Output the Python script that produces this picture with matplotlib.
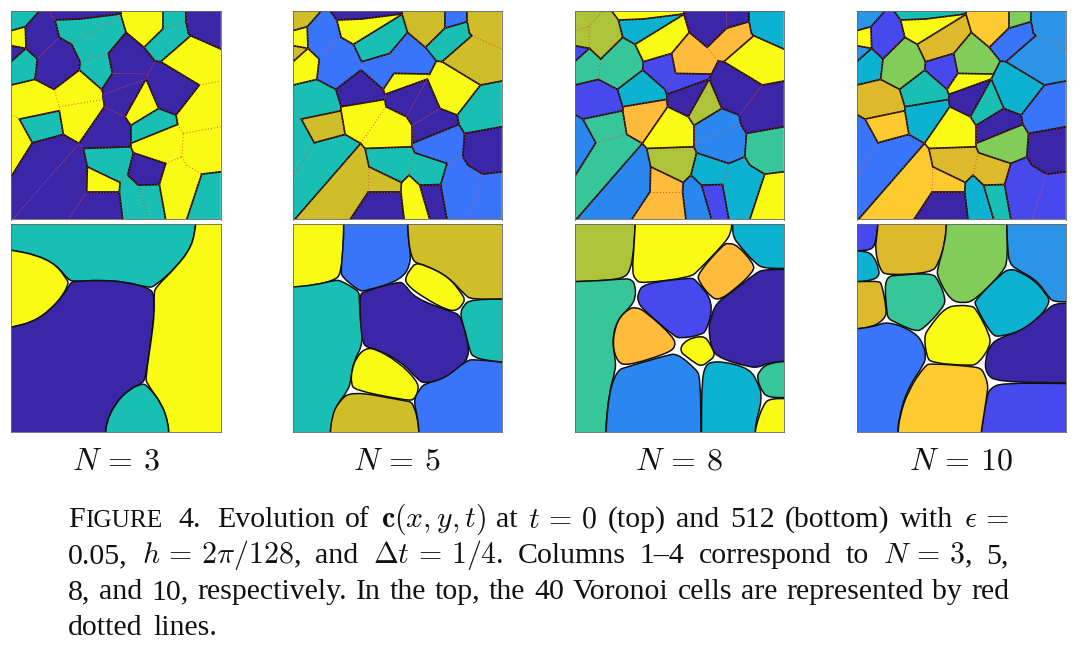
import numpy as np
import matplotlib
matplotlib.use('Agg')
import matplotlib.pyplot as plt
from matplotlib.patches import Polygon, PathPatch
from matplotlib.path import Path

plt.rcParams['mathtext.fontset'] = 'cm'
plt.rcParams['font.family'] = ['Liberation Serif', 'DejaVu Serif']

W, H = 1085, 646

# colours, per letter
palette = {'P': '#3C26A8', 'I': '#4749EE', 'B': '#3875FB', 'H': '#2B87F0', 'L': '#2B94E6', 'C': '#0DB2D0',
           'T': '#18BFB2', 'E': '#36C69A', 'G': '#82CC5A', 'A': '#ADC33A', 'D': '#D0BD2A',
           'O': '#DDB92C', 'R': '#FFBB3B', 'S': '#FDCB2F', 'Y': '#F9FB14'}

# the 40 Voronoi cells of the top row, same in every column (zoom pixels)
voronoi_cells = [
    [(33, 33), (118, 33), (76, 80), (33, 92)],
    [(33, 92), (76, 80), (78, 145), (33, 137)],
    [(33, 137), (78, 145), (33, 185)],
    [(33, 185), (78, 145), (112, 177), (105, 238), (33, 255)],
    [(118, 33), (145, 33), (165, 60), (178, 112), (112, 177), (78, 145), (76, 80)],
    [(178, 112), (215, 133), (240, 185), (238, 210), (162, 268), (105, 238), (112, 177)],
    [(145, 33), (362, 33), (362, 43), (352, 43), (240, 57), (165, 60)],
    [(165, 60), (240, 57), (352, 43), (362, 43), (215, 133), (178, 112)],
    [(215, 133), (362, 43), (378, 97), (325, 160), (240, 185)],
    [(240, 185), (325, 160), (337, 220), (305, 268), (238, 210)],
    [(378, 97), (432, 142), (465, 183), (445, 222), (337, 220), (325, 160)],
    [(337, 220), (445, 222), (438, 237), (310, 283), (305, 268)],
    [(310, 283), (438, 237), (375, 350), (313, 320), (310, 298)],
    [(438, 237), (476, 325), (392, 376), (375, 350)],
    [(465, 183), (482, 185), (598, 255), (528, 345), (476, 325), (438, 237), (445, 222)],
    [(482, 185), (572, 107), (662, 147), (662, 243), (598, 255)],
    [(432, 142), (490, 85), (558, 65), (565, 100), (572, 107), (482, 185), (465, 183)],
    [(490, 33), (558, 33), (558, 65), (490, 85)],
    [(362, 33), (490, 33), (490, 85), (432, 142), (378, 97), (362, 43)],
    [(558, 33), (662, 33), (662, 147), (572, 107), (565, 100), (558, 65)],
    [(598, 255), (662, 243), (662, 380), (550, 400), (533, 373), (528, 345)],
    [(550, 400), (662, 380), (662, 515), (605, 522), (560, 495), (545, 470)],
    [(392, 376), (476, 325), (528, 345), (533, 373), (392, 430)],
    [(392, 430), (533, 373), (550, 400), (545, 470), (497, 490), (400, 458), (392, 440)],
    [(313, 320), (375, 350), (392, 376), (392, 430), (392, 440), (250, 445), (237, 430)],
    [(162, 268), (238, 210), (305, 268), (310, 283), (310, 298), (178, 320)],
    [(178, 320), (310, 298), (313, 320), (237, 430), (190, 403), (178, 332)],
    [(33, 255), (105, 238), (162, 268), (178, 320), (178, 332), (58, 357), (33, 343)],
    [(58, 357), (178, 332), (190, 403), (97, 428)],
    [(33, 343), (58, 357), (97, 428), (33, 530)],
    [(33, 530), (97, 428), (190, 403), (237, 430), (38, 658), (33, 658)],
    [(38, 658), (237, 430), (250, 445), (262, 500), (260, 575), (205, 658)],
    [(205, 658), (260, 575), (358, 575), (368, 658)],
    [(250, 445), (392, 440), (400, 458), (383, 525), (360, 547), (262, 500)],
    [(262, 500), (360, 547), (358, 575), (260, 575)],
    [(400, 458), (497, 490), (478, 553), (415, 555), (383, 525)],
    [(360, 547), (383, 525), (415, 555), (445, 658), (368, 658), (358, 575)],
    [(415, 555), (478, 553), (497, 658), (445, 658)],
    [(497, 490), (545, 470), (560, 495), (605, 522), (560, 658), (497, 658), (478, 553)],
    [(605, 522), (662, 515), (662, 658), (560, 658)],
]

# colour letter of each Voronoi cell for N = 3, 5, 8, 10
top_colors_n3 = 'TYPTPPPTTTPPPYPYTTYPYYTYPYYYTYPPPTYPTTYT'
top_colors_n5 = 'DYDYBBPYTBBYPPYDTBDDTPPBYPYTDTTDPTDTYPBB'
top_colors_n8 = 'AAIEAEYCYIRIPAPYRPPCPEHHYCRIEHEHRARCHICY'
top_colors_n10 = 'LYLCIGTYOIGYPTCLBGSLBPPGYTCOSBBSPOSOCTII'

# bottom row, t = 512: outline points of each region, each panel in its own zoom pixels
n3_cells = [
    [(20, 0), (587, 0), (587, 20), (575, 80), (530, 140), (465, 198), (445, 203), (380, 186), (300, 180), (225, 184), (205, 180), (170, 135), (110, 105), (33, 90), (20, 88)],
    [(20, 90), (33, 90), (110, 105), (170, 135), (206, 187), (190, 225), (150, 270), (100, 305), (33, 322), (20, 322)],
    [(20, 322), (33, 322), (100, 305), (150, 270), (190, 225), (215, 185), (300, 180), (380, 186), (450, 205), (462, 225), (463, 280), (455, 350), (437, 470), (427, 490), (390, 505), (345, 550), (318, 610), (317, 650), (20, 650)],
    [(587, 0), (670, 0), (670, 650), (506, 650), (505, 610), (485, 550), (440, 490), (437, 470), (455, 350), (463, 280), (462, 225), (465, 203), (530, 140), (575, 80), (587, 20)],
    [(317, 650), (318, 610), (345, 550), (390, 505), (430, 490), (445, 500), (485, 550), (505, 610), (506, 650)],
]
n3_colors = 'TYPYT'

n5_cells = [
    [(10, 0), (176, 0), (176, 60), (168, 160), (150, 180), (90, 195), (24, 202), (10, 202)],
    [(176, 0), (368, 0), (370, 60), (380, 125), (350, 180), (240, 213), (222, 212), (170, 170), (168, 150), (176, 60)],
    [(368, 0), (665, 0), (665, 237), (560, 238), (540, 225), (490, 170), (420, 135), (395, 130), (380, 115), (370, 60)],
    [(10, 202), (90, 195), (150, 180), (170, 182), (222, 215), (225, 290), (235, 370), (205, 425), (197, 480), (190, 510), (150, 560), (135, 636), (135, 650), (10, 650)],
    [(235, 215), (340, 185), (357, 190), (390, 235), (500, 275), (525, 285), (540, 330), (555, 400), (530, 440), (480, 475), (420, 490), (400, 480), (350, 425), (270, 385), (245, 382), (232, 365), (225, 290), (225, 225)],
    [(390, 130), (420, 135), (490, 170), (530, 220), (540, 240), (520, 270), (490, 272), (420, 235), (365, 195), (360, 170)],
    [(240, 385), (270, 385), (340, 425), (395, 480), (402, 510), (385, 540), (350, 538), (210, 510), (198, 490), (200, 450), (215, 410)],
    [(200, 512), (350, 540), (380, 545), (398, 590), (403, 650), (135, 650), (140, 590), (160, 545)],
    [(420, 490), (480, 475), (545, 420), (570, 418), (665, 427), (665, 650), (403, 650), (398, 590), (385, 540), (405, 505)],
    [(560, 238), (665, 237), (665, 427), (600, 420), (565, 410), (555, 395), (540, 330), (525, 285), (535, 255)],
]
n5_colors = 'YBDTPYYDBT'

n8_cells = [
    [(10, 0), (205, 0), (200, 90), (190, 150), (170, 175), (100, 182), (22, 185), (10, 185)],
    [(205, 0), (495, 0), (492, 40), (470, 72), (395, 150), (370, 172), (225, 190), (205, 180), (195, 155), (200, 90)],
    [(497, 0), (665, 0), (665, 145), (590, 145), (565, 130), (520, 80), (497, 50)],
    [(485, 70), (510, 75), (560, 130), (560, 155), (500, 210), (460, 238), (435, 235), (395, 185), (392, 160), (470, 72)],
    [(665, 148), (590, 148), (565, 160), (500, 212), (445, 250), (430, 300), (425, 320), (430, 370), (445, 410), (550, 442), (580, 440), (600, 428), (665, 422)],
    [(230, 190), (370, 173), (385, 178), (440, 245), (420, 330), (400, 345), (340, 355), (320, 347), (230, 270), (212, 245), (212, 220)],
    [(10, 185), (100, 182), (170, 176), (195, 178), (205, 200), (205, 235), (190, 260), (150, 300), (135, 360), (145, 420), (145, 450), (125, 520), (115, 636), (115, 650), (10, 650)],
    [(205, 262), (230, 270), (320, 350), (325, 380), (300, 400), (180, 437), (150, 425), (135, 370), (150, 300), (185, 265)],
    [(380, 350), (415, 350), (440, 390), (442, 410), (405, 438), (385, 430), (340, 395), (345, 370)],
    [(180, 440), (300, 405), (330, 400), (385, 445), (400, 470), (402, 650), (115, 650), (125, 520), (150, 450)],
    [(403, 650), (404, 470), (420, 430), (460, 422), (550, 445), (575, 495), (583, 520), (580, 560), (565, 610), (565, 650)],
    [(665, 422), (600, 430), (575, 455), (570, 475), (585, 515), (605, 532), (665, 532)],
    [(665, 535), (610, 535), (590, 550), (565, 620), (565, 650), (665, 650)],
]
n8_colors = 'AYCRPIERYHCEY'

n10_cells = [
    [(5, 0), (85, 0), (80, 50), (70, 85), (45, 92), (5, 92)],
    [(85, 0), (290, 0), (285, 70), (265, 130), (245, 158), (110, 166), (90, 150), (75, 90), (80, 50)],
    [(290, 0), (470, 0), (473, 120), (460, 155), (375, 240), (340, 250), (300, 240), (262, 170), (262, 145), (285, 70)],
    [(470, 0), (660, 0), (660, 245), (610, 245), (595, 230), (560, 180), (495, 145), (480, 130), (473, 100)],
    [(5, 93), (45, 93), (70, 105), (88, 150), (85, 172), (50, 184), (5, 185)],
    [(5, 185), (50, 184), (85, 184), (95, 190), (110, 270), (105, 295), (70, 320), (5, 328)],
    [(115, 168), (245, 158), (265, 180), (287, 235), (280, 262), (222, 325), (195, 335), (113, 295), (103, 200)],
    [(480, 148), (500, 150), (560, 185), (600, 240), (580, 280), (520, 330), (450, 350), (425, 345), (375, 255), (375, 240), (460, 155)],
    [(330, 255), (360, 258), (376, 262), (420, 345), (420, 380), (385, 430), (360, 437), (245, 428), (230, 410), (222, 350), (235, 325), (285, 262)],
    [(660, 250), (615, 250), (590, 270), (520, 330), (450, 352), (420, 375), (405, 420), (408, 460), (440, 485), (660, 488)],
    [(660, 490), (455, 488), (420, 505), (410, 530), (393, 636), (393, 650), (660, 650)],
    [(5, 328), (70, 320), (115, 303), (195, 336), (222, 375), (227, 410), (222, 432), (170, 510), (145, 600), (143, 650), (5, 650)],
    [(245, 430), (360, 438), (395, 445), (415, 490), (410, 530), (393, 636), (393, 650), (143, 650), (148, 590), (175, 510), (225, 435)],
]
n10_colors = 'IOGLCOECYPIBS'

# layout in picture pixels
column_left = [11, 293, 574.5, 856.7]
column_right = [220.7, 501.7, 783.7, 1065.7]
top_row = (11, 219.5)
bottom_row = (224, 432.3)
bottom_limits = [(33, 662), (24, 650), (22, 650), (20, 647)]

column_labels = [r'$N\,=\,3$', r'$N\,=\,5$', r'$N\,=\,8$', r'$N\,=\,10$']
label_centres = [116, 397, 679, 961]

caption_line1 = ['Evolution', 'of', r'$\mathbf{c}(x,y,t)$', 'at', '$t\\,=\\,0$', '(top)', 'and', '512', '(bottom)', 'with', r'$\epsilon\,=$']
caption_line2 = ['0.05,', r'$h\,=\,2\pi/128$,', 'and', r'$\Delta t\,=\,1/4$.', 'Columns', '1–4', 'correspond', 'to', r'$N\,=\,3$,', '5,']
caption_line3 = ['8,', 'and', '10,', 'respectively.', 'In', 'the', 'top,', 'the', '40', 'Voronoi', 'cells', 'are', 'represented', 'by', 'red']
caption_line4 = ['dotted', 'lines.']


def make_axes(fig, left, right, top, bottom):
    ax = fig.add_axes([left / W, 1 - bottom / H, (right - left) / W, (bottom - top) / H])
    ax.set_xticks([])
    ax.set_yticks([])
    for spine in ax.spines.values():
        spine.set_color('#666666')
        spine.set_linewidth(0.6)
    return ax


def rounded_path(points, r):
    # gentle bends become smooth curves, sharp corners only get a small radius
    pts = np.array(points, dtype=float)
    verts, codes = [], []
    n = len(pts)
    for i in range(n):
        p, v, q = pts[i - 1], pts[i], pts[(i + 1) % n]
        d1, d2 = p - v, q - v
        cos_turn = -np.dot(d1, d2) / (np.linalg.norm(d1) * np.linalg.norm(d2))
        if cos_turn > 0.6:
            a, b = v + d1 * 0.5, v + d2 * 0.5
        else:
            a = v + d1 * min(r / np.linalg.norm(d1), 0.5)
            b = v + d2 * min(r / np.linalg.norm(d2), 0.5)
        verts += [a, v, b]
        codes += [Path.MOVETO if i == 0 else Path.LINETO, Path.CURVE3, Path.CURVE3]
    verts.append(verts[0])
    codes.append(Path.CLOSEPOLY)
    return Path(verts, codes)


def on_border(pt):
    return pt[0] in (33, 662) or pt[1] in (33, 658)


def draw_top(ax, colors):
    edges = {}
    for cell, letter in zip(voronoi_cells, colors):
        ax.add_patch(Polygon(cell, closed=True, facecolor=palette[letter], edgecolor=palette[letter], lw=0.3))
        for i in range(len(cell)):
            key = tuple(sorted((cell[i], cell[(i + 1) % len(cell)])))
            edges.setdefault(key, []).append(letter)
    for (p, q), letters in edges.items():
        if len(letters) == 1 and on_border(p) and on_border(q):
            continue
        if len(set(letters)) > 1 or len(letters) == 1:
            ax.plot([p[0], q[0]], [p[1], q[1]], color='#101010', lw=1.2, solid_capstyle='round')
    for (p, q), letters in edges.items():
        if len(letters) == 1 and on_border(p) and on_border(q):
            continue
        ax.plot([p[0], q[0]], [p[1], q[1]], color='#E8302A', lw=0.7, linestyle=(0, (1, 2.2)), alpha=0.85)
    ax.set_xlim(33, 662)
    ax.set_ylim(658, 33)


def draw_bottom(ax, cells, colors, limits, r):
    for cell, letter in zip(cells, colors):
        ax.add_patch(PathPatch(rounded_path(cell, r), facecolor=palette[letter], edgecolor='#101010', lw=1.1))
    ax.set_xlim(*limits)
    ax.set_ylim(636, 12)


def put_text(fig, x, y, s, size):
    return fig.text(x / W, 1 - y / H, s, fontsize=size, va='baseline', ha='left', color='#111111')


def justify(fig, tokens, y, x0, x1, size):
    # place the words so that the line runs exactly from x0 to x1
    renderer = fig.canvas.get_renderer()
    texts = [put_text(fig, x0, y, s, size) for s in tokens]
    widths = [t.get_window_extent(renderer).width for t in texts]
    gap = (x1 - x0 - sum(widths)) / (len(tokens) - 1)
    x = x0
    for t, w in zip(texts, widths):
        t.set_x(x / W)
        x += w + gap


fig = plt.figure(figsize=(W / 100, H / 100), dpi=100, facecolor='white')

top_colors = [top_colors_n3, top_colors_n5, top_colors_n8, top_colors_n10]
bottom_cells = [n3_cells, n5_cells, n8_cells, n10_cells]
bottom_colors = [n3_colors, n5_colors, n8_colors, n10_colors]
corner_sizes = [8, 10, 12, 14]

for i in range(4):
    ax = make_axes(fig, column_left[i], column_right[i], top_row[0], top_row[1])
    draw_top(ax, top_colors[i])
    ax = make_axes(fig, column_left[i], column_right[i], bottom_row[0], bottom_row[1])
    draw_bottom(ax, bottom_cells[i], bottom_colors[i], bottom_limits[i], corner_sizes[i])
    fig.text(label_centres[i] / W, 1 - 469 / H, column_labels[i], fontsize=23, ha='center', va='baseline', color='#111111')

# caption, small caps word first
renderer = fig.canvas.get_renderer()
size = 21.5
first = put_text(fig, 68, 527, 'F', size)
x = 68 + first.get_window_extent(renderer).width
put_text(fig, x, 527, 'IGURE', size * 0.85)
put_text(fig, 178, 527, '4.', size)
justify(fig, caption_line1, 527, 217, 1009, size)
justify(fig, caption_line2, 563, 68, 1009, size)
justify(fig, caption_line3, 599, 68, 1009, size)
justify(fig, caption_line4, 635, 68, 217, size)

fig.savefig('out.png', dpi=100)
